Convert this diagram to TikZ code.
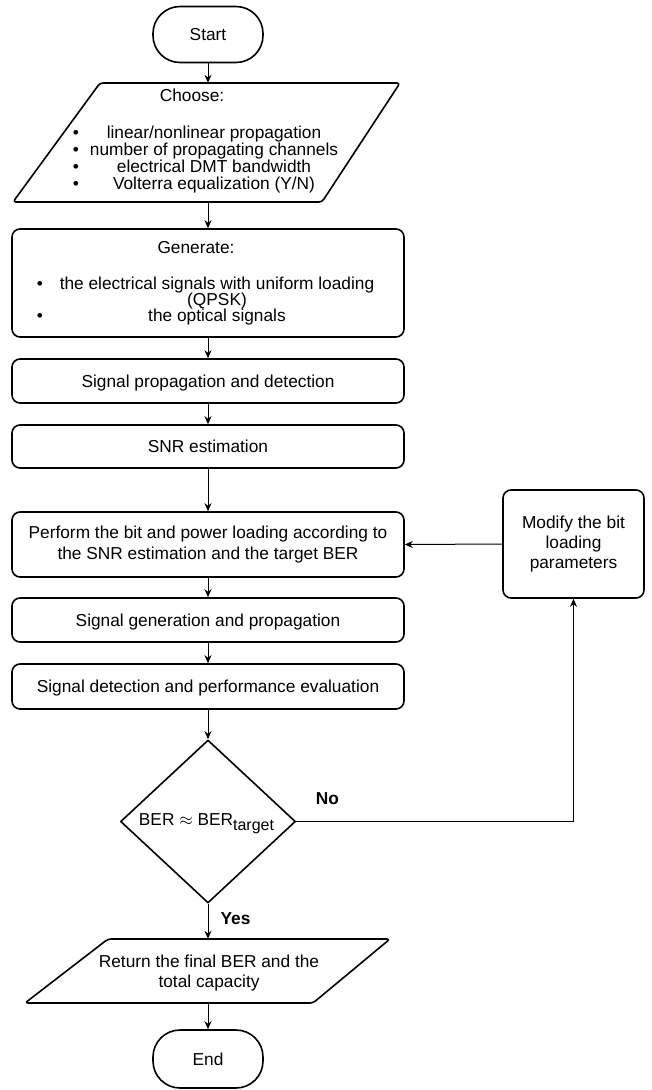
\documentclass[tikz,border=0pt]{standalone}
\usepackage{fontspec}
\setmainfont{Liberation Sans}
\usepackage{graphicx}
\usetikzlibrary{arrows.meta,shapes.geometric}
\begin{document}
\begin{tikzpicture}[x=1pt,y=-1pt,
  every node/.style={font=\fontsize{17.3}{20.4}\selectfont},
  shapeline/.style={line width=1.6pt, line join=round},
  box/.style={draw, shapeline, rounded corners=8pt, minimum width=392pt, inner sep=0pt, align=center},
  one/.style={text height=12.4pt, text depth=0pt},
  term/.style={draw, shapeline, rounded corners=27pt, minimum width=110pt, minimum height=56pt, inner sep=0pt, text height=12.4pt, text depth=0pt},
  dia/.style={draw, shapeline, diamond, minimum width=175pt, minimum height=163pt, inner sep=0pt},
  hold/.style={inner sep=0pt, align=center},
  txt/.style={anchor=base, inner sep=0pt},
  lbl/.style={anchor=base, inner sep=0pt, font=\fontsize{17.3}{20.4}\selectfont\bfseries},
  conn/.style={-{Stealth[length=8pt,width=7pt]}, line width=1pt},
  plain/.style={line width=1pt}
]
\useasboundingbox (0,0) rectangle (651,1090);

% Start
\node[term] (start) at (208,34.5) {Start};

% Choose (parallelogram)
\node[hold, minimum width=220pt, minimum height=119pt] (choose) at (208,142.5) {};
\draw[shapeline, rounded corners=3pt] (100,83) -- (400,83) -- (322,202) -- (13,202) -- cycle;
\node[txt] (chT) at (192,101) {Choose:};
\node[txt] (chb1) at (76,138) {•};
\node[txt] (ch1) at (214,138) {linear/nonlinear propagation};
\node[txt] (chb2) at (76,155) {•};
\node[txt] (ch2) at (214,155) {number of propagating channels};
\node[txt] (chb3) at (76,172) {•};
\node[txt] (ch3) at (214,172) {electrical DMT bandwidth};
\node[txt] (chb4) at (76,189) {•};
\node[txt] (ch4) at (214,189) {Volterra equalization (Y/N)};

% Generate
\node[box, minimum height=108pt] (gen) at (208,283) {};
\node[txt] (genT) at (196,253) {Generate:};
\node[txt] (genb1) at (40,289) {•};
\node[txt] (gen1) at (217,289) {the electrical signals with uniform loading};
\node[txt] (gen1b) at (217,305) {(QPSK)};
\node[txt] (genb2) at (40,321) {•};
\node[txt] (gen2) at (217,321) {the optical signals};

% Process boxes
\node[box, one, minimum height=44pt] (prop) at (208,381) {Signal propagation and detection};
\node[box, one, minimum height=43pt] (snr) at (208,446.5) {SNR estimation};
\node[box, minimum height=65pt] (perf) at (208,544.5) {Perform the bit and power loading according to\\the SNR estimation and the target BER};
\node[box, one, minimum height=44pt] (sgen) at (208,620) {Signal generation and propagation};
\node[box, one, minimum height=45pt] (sdet) at (208,686.5) {Signal detection and performance evaluation};

% Modify
\node[box, minimum width=141pt, minimum height=108pt] (mod) at (573.5,544) {Modify the bit\\loading\\parameters};

% Decision
\node[dia] (dec) at (208,821.5) {};
\node[txt] (decT) at (206.5,825) {BER $\approx$ BER\raisebox{-5pt}{\fontsize{16}{16}\selectfont target}};

% Return (parallelogram)
\node[hold, minimum width=200pt, minimum height=64pt] (ret) at (208,971) {};
\draw[shapeline, rounded corners=3pt] (108,939) -- (390,939) -- (313,1003) -- (25,1003) -- cycle;
\node[hold] (retT) at (209,973) {Return the final BER and the\\total capacity};

% End
\node[term, minimum height=58pt] (end) at (208,1059) {End};

% Connectors
\draw[conn] (start.south) -- (choose.north);
\draw[conn] (choose.south) -- (gen.north);
\draw[conn] (gen.south) -- (prop.north);
\draw[conn] (prop.south) -- (snr.north);
\draw[conn] (snr.south) -- (perf.north);
\draw[conn] (perf.south) -- (sgen.north);
\draw[conn] (sgen.south) -- (sdet.north);
\draw[conn] (sdet.south) -- (dec.north);
\draw[conn] (dec.south) -- (ret.north);
\draw[conn] (ret.south) -- (end.north);
\draw[conn] (mod.west) -- (perf.east);
\draw[conn] (dec.east) -| (mod.south);

% Labels
\node[lbl] (no) at (327.5,804) {No};
\node[lbl] (yes) at (235.5,924) {Yes};
\end{tikzpicture}
\end{document}
